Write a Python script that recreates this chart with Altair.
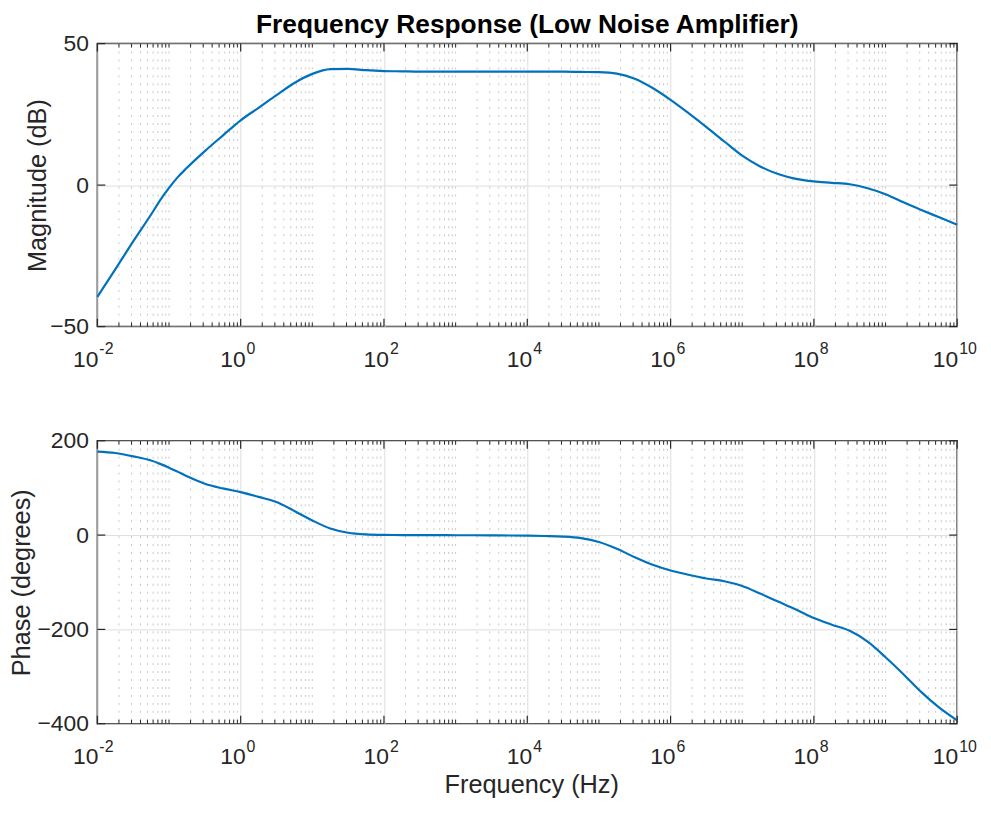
import altair as alt
import pandas as pd

# ---- data (log10 of frequency in Hz) ----
log_freq = [-2.0, -1.75, -1.5, -1.25, -1.125, -1.0, -0.875, -0.75, -0.5, -0.25, 0.0, 0.25, 0.5, 0.75,
            1.0, 1.25, 1.5, 1.75, 2.0, 2.25, 2.5, 2.75, 3.0, 3.25, 3.5, 3.75,
            4.0, 4.25, 4.5, 4.75, 5.0, 5.25, 5.5, 5.75, 6.0, 6.25, 6.5, 6.75,
            7.0, 7.25, 7.5, 7.75, 8.0, 8.25, 8.5, 8.75, 9.0, 9.25, 9.5, 9.75, 10.0]
magnitude_db = [-39.5, -29.8, -19.9, -10.4, -5.4, -1.0, 2.9, 6.1, 12.0, 17.5, 22.9, 27.3, 31.8, 36.1,
                39.3, 41.0, 41.1, 40.6, 40.3, 40.2, 40.1, 40.1, 40.1, 40.1, 40.1, 40.1,
                40.1, 40.1, 40.1, 40.0, 39.9, 39.4, 37.6, 34.3, 30.1, 25.4, 20.5, 15.4,
                10.4, 6.6, 3.9, 2.2, 1.3, 0.8, 0.3, -1.1, -3.2, -6.1, -8.8, -11.4, -14.0]
phase_deg = [177, 174, 167, 158, 151, 143, 134, 125, 109, 99, 91, 81, 70, 51,
             31, 14, 5, 1.5, 0.4, 0.1, 0, -0.1, -0.3, -0.4, -0.6, -0.9,
             -1.3, -2.0, -3.2, -6.5, -14.5, -29, -47, -63, -75, -84, -92, -98,
             -108, -124, -141, -158, -176, -190, -203, -226, -259, -295, -333, -366, -393]

major_exponents = [-2, 0, 2, 4, 6, 8, 10]
decades = [-2, -1, 0, 1, 2, 3, 4, 5, 6, 7, 8, 9]
mantissas = [1, 2, 3, 4, 5, 6, 7, 8, 9]
mag_ticks = [-50, 0, 50]
phase_ticks = [-400, -200, 0, 200]

# ---- tables ----
curve = pd.DataFrame({
    "f": [10.0 ** v for v in log_freq],
    "mag": magnitude_db,
    "phase": phase_deg,
})
major_vals = [10.0 ** e for e in major_exponents]
minor_vals = [m * 10.0 ** d for d in decades for m in mantissas if (10.0 ** d * m) not in major_vals]
minor_df = pd.DataFrame({"f": minor_vals})
major_df = pd.DataFrame({"f": major_vals})
labels_df = pd.DataFrame({
    "f": major_vals,
    "base": ["10"] * len(major_exponents),
    "exp": [str(e) for e in major_exponents],
})

W, H = 866, 285
FONT = "Liberation Sans"
TXT = "#262626"
BOX = "#262626"
GRID = "#dedede"
MINOR = "#c8c8c8"
LINE = "#0072BD"
TICK_FS = 23
LABEL_FS = 25.5

xs = alt.Scale(type="log", domain=[1e-2, 1e10], nice=False)


def panel(field, ydom, yticks, ytitle, title_x, xtitle=None, title=None):
    ys = alt.Scale(domain=ydom, nice=False, zero=False)
    x_axis_args = dict(values=major_vals, grid=True, gridColor=GRID, gridWidth=1,
                       labels=False, ticks=False, domain=False)
    if xtitle:
        x_axis_args.update(title=xtitle, titleFont=FONT, titleFontSize=LABEL_FS,
                           titleFontWeight="normal", titleColor=TXT,
                           titleBaseline="alphabetic", titleY=69, titleX=W / 2 + 4)
    else:
        x_axis_args.update(title=None)
    x_axis = alt.Axis(**x_axis_args)
    y_axis = alt.Axis(values=yticks, grid=True, gridColor=GRID, gridWidth=1,
                      ticks=False, domain=False, labelFont=FONT, labelFontSize=TICK_FS,
                      labelColor=TXT, labelPadding=9, title=ytitle, titleFont=FONT,
                      titleFontSize=LABEL_FS, titleFontWeight="normal", titleColor=TXT,
                      titleAngle=270, titleBaseline="alphabetic", titleAlign="center",
                      titleX=title_x, titleY=H / 2)

    xenc = alt.X("f:Q", scale=xs, axis=x_axis)

    minor_grid = alt.Chart(minor_df).mark_rule(color=MINOR, strokeDash=[2, 6], strokeWidth=1).encode(
        x=xenc, y=alt.value(0), y2=alt.value(H))

    top_minor = alt.Chart(minor_df).mark_rule(color=BOX, strokeWidth=1).encode(
        x=xenc, y=alt.value(0), y2=alt.value(4))
    bot_minor = alt.Chart(minor_df).mark_rule(color=BOX, strokeWidth=1).encode(
        x=xenc, y=alt.value(H - 4), y2=alt.value(H))
    top_major = alt.Chart(major_df).mark_rule(color=BOX, strokeWidth=1.2).encode(
        x=xenc, y=alt.value(0), y2=alt.value(8))
    bot_major = alt.Chart(major_df).mark_rule(color=BOX, strokeWidth=1.2).encode(
        x=xenc, y=alt.value(H - 8), y2=alt.value(H))

    ydf = pd.DataFrame({"v": yticks})
    yenc = alt.Y("v:Q", scale=ys, axis=y_axis)
    left_t = alt.Chart(ydf).mark_rule(color=BOX, strokeWidth=1.2).encode(
        y=yenc, x=alt.value(0), x2=alt.value(8))
    right_t = alt.Chart(ydf).mark_rule(color=BOX, strokeWidth=1.2).encode(
        y=yenc, x=alt.value(W - 8), x2=alt.value(W))

    line = alt.Chart(curve).mark_line(color=LINE, strokeWidth=2.2, interpolate="monotone").encode(
        x=xenc,
        y=alt.Y(f"{field}:Q", scale=ys, axis=y_axis),
    )

    layers = [minor_grid, line, top_minor, bot_minor, top_major, bot_major, left_t, right_t]

    # x tick labels "10" with superscript exponents
    for cond, dx in (("length(datum.exp) == 1", 5), ("length(datum.exp) == 2", 1)):
        base = alt.Chart(labels_df).transform_filter(cond).mark_text(
            align="right", baseline="alphabetic", dx=dx, font=FONT, fontSize=TICK_FS, color=TXT
        ).encode(x=xenc, y=alt.value(H + 41), text="base:N")
        expo = alt.Chart(labels_df).transform_filter(cond).mark_text(
            align="left", baseline="alphabetic", dx=dx + 1, font=FONT, fontSize=16, color=TXT
        ).encode(x=xenc, y=alt.value(H + 28), text="exp:N")
        layers += [base, expo]

    ch = alt.layer(*layers).properties(width=W, height=H)
    if title:
        ch = ch.properties(title=alt.Title(title, font=FONT, fontSize=26.5, fontWeight="bold",
                                           color="#000000", anchor="middle", frame="group",
                                           baseline="alphabetic", offset=-27))
    return ch


top = panel("mag", [-50, 50], mag_ticks, "Magnitude (dB)", -52,
            title="Frequency Response (Low Noise Amplifier)")
bottom = panel("phase", [-400, 200], phase_ticks, "Phase (degrees)", -68,
               xtitle="Frequency (Hz)")

chart = alt.vconcat(top, bottom, spacing=115, bounds="flush").properties(
    padding={"left": 1, "top": 0, "right": 5, "bottom": 5}
).configure_view(stroke=BOX, strokeWidth=1.5)

chart.save("out.html", embed_options={"renderer": "svg", "actions": False})
